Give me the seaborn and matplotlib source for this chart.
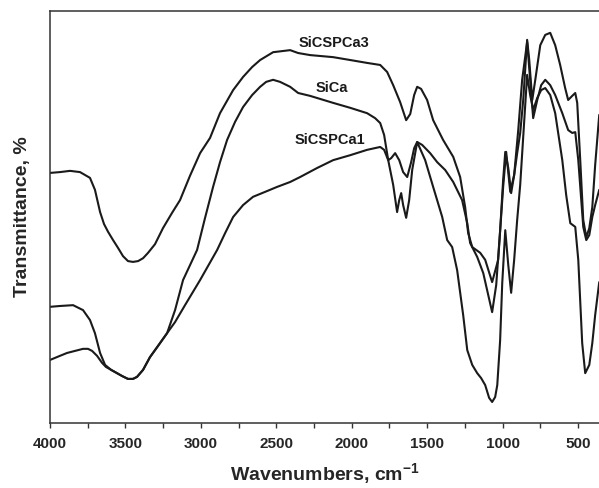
import numpy as np
import pandas as pd
import matplotlib
matplotlib.use("Agg")
import matplotlib.pyplot as plt
from matplotlib.ticker import MultipleLocator
import seaborn as sns

# ---- data (wavenumber cm^-1, transmittance in arbitrary %) ----
w_sicspca3 = [4000, 3934, 3867, 3801, 3768, 3735, 3702, 3668, 3642, 3615, 3582, 3549, 3516, 3483,
              3450, 3416, 3383, 3350, 3304, 3251, 3191, 3138, 3072, 3005, 2939, 2873, 2786, 2720,
              2660, 2607, 2521, 2408, 2355, 2276, 2123, 2010, 1898, 1811, 1765, 1725, 1679, 1639,
              1612, 1586, 1566, 1540, 1500, 1460, 1394, 1327, 1281, 1248, 1228, 1201, 1148, 1115,
              1069, 1029, 996, 976, 949, 923, 903, 883, 863, 837, 823, 803, 783, 750, 717, 684,
              651, 618, 585, 565, 538, 518, 505, 485, 465, 445, 425, 405, 386, 359]
t_sicspca3 = [60.7, 60.9, 61.2, 60.9, 60.2, 59.5, 56.6, 51.2, 48.3, 46.4, 44.4, 42.5, 40.5, 39.3,
              39.1, 39.3, 40.0, 41.3, 43.4, 47.3, 51.0, 54.1, 60.0, 65.5, 69.2, 75.2, 80.8, 84.0,
              86.4, 88.1, 90.0, 90.5, 89.8, 89.3, 88.8, 88.1, 87.4, 86.9, 85.2, 82.0, 77.9, 73.5,
              75.0, 79.6, 81.6, 81.1, 78.4, 73.5, 68.7, 64.6, 59.7, 52.4, 46.1, 42.7, 41.3, 39.6,
              34.2, 39.6, 57.3, 65.8, 56.1, 60.2, 65.5, 70.4, 78.4, 93.0, 88.1, 78.4, 83.3, 91.7,
              94.2, 94.7, 91.7, 86.9, 81.3, 78.4, 79.4, 80.1, 77.7, 63.8, 49.3, 45.1, 47.3, 52.4,
              62.6, 74.8]

w_sica = [4000, 3934, 3847, 3781, 3735, 3702, 3668, 3635, 3595, 3556, 3522, 3483, 3450, 3423,
          3383, 3337, 3284, 3224, 3171, 3118, 3072, 3025, 2972, 2919, 2873, 2826, 2773, 2720,
          2660, 2607, 2567, 2521, 2475, 2408, 2355, 2276, 2123, 2010, 1898, 1845, 1811, 1785,
          1758, 1738, 1712, 1685, 1659, 1632, 1606, 1586, 1566, 1533, 1480, 1433, 1380, 1327,
          1268, 1234, 1215, 1168, 1128, 1069, 1042, 1016, 996, 982, 962, 943, 923, 896, 870,
          837, 817, 797, 770, 744, 717, 684, 651, 604, 565, 538, 518, 498, 465, 445, 425, 405,
          386, 359]
t_sica = [28.2, 28.4, 28.6, 27.4, 25.0, 21.8, 17.0, 14.1, 12.9, 12.1, 11.4, 10.7, 10.7, 11.2,
          12.9, 16.0, 18.7, 21.8, 27.4, 34.7, 38.3, 42.0, 49.8, 57.3, 63.3, 68.7, 73.1, 76.7,
          79.6, 81.6, 82.8, 83.3, 82.8, 81.6, 80.1, 79.4, 77.7, 76.5, 75.2, 74.0, 72.8, 69.9,
          63.8, 64.3, 65.5, 63.8, 60.9, 59.7, 63.3, 66.7, 68.2, 67.5, 65.5, 63.3, 61.4, 58.5,
          54.1, 48.5, 43.7, 40.3, 36.4, 26.9, 33.5, 46.8, 59.0, 65.8, 61.9, 55.8, 60.2, 71.1,
          83.3, 92.5, 83.3, 74.0, 78.4, 82.0, 83.3, 82.0, 79.6, 75.2, 71.1, 70.4, 70.6, 63.8,
          47.6, 44.4, 45.6, 50.0, 52.9, 56.6]

w_sicspca1 = [4000, 3934, 3887, 3834, 3781, 3748, 3721, 3688, 3655, 3629, 3595, 3556, 3522, 3483,
              3450, 3423, 3383, 3337, 3284, 3224, 3171, 3105, 3005, 2892, 2839, 2786, 2720, 2654,
              2574, 2495, 2408, 2342, 2229, 2123, 2010, 1898, 1811, 1785, 1758, 1725, 1699, 1685,
              1672, 1659, 1639, 1619, 1599, 1566, 1513, 1460, 1400, 1367, 1334, 1301, 1261, 1234,
              1201, 1168, 1142, 1115, 1089, 1069, 1049, 1035, 1016, 1002, 982, 962, 943, 923, 903,
              883, 856, 837, 817, 797, 770, 744, 717, 684, 651, 604, 578, 551, 518, 498, 472, 452,
              425, 405, 386, 359]
t_sicspca1 = [15.3, 16.3, 17.0, 17.5, 18.0, 18.0, 17.5, 16.3, 14.6, 13.6, 12.9, 12.1, 11.4, 10.7,
              10.7, 11.2, 12.9, 16.0, 18.7, 21.8, 24.5, 28.6, 34.7, 42.0, 46.1, 50.0, 52.9, 54.9,
              56.1, 57.3, 58.5, 59.7, 61.9, 63.8, 65.0, 66.3, 67.0, 66.3, 63.8, 57.8, 51.2, 54.1,
              55.8, 52.9, 49.8, 54.1, 61.4, 68.2, 63.8, 57.3, 50.0, 44.4, 42.7, 37.1, 26.2, 17.7,
              14.1, 12.1, 10.9, 9.2, 6.1, 5.1, 6.3, 9.2, 20.1, 34.0, 46.8, 38.3, 31.6, 39.6, 49.3,
              57.8, 73.5, 84.5, 79.6, 76.0, 78.9, 80.8, 81.3, 79.6, 75.2, 63.8, 55.3, 48.5, 47.6,
              39.6, 19.4, 12.1, 14.1, 19.4, 26.2, 34.2]

series_names = ["SiCSPCa3", "SiCa", "SiCSPCa1"]
label_pos_w = [2116, 2130, 2143]
label_pos_t = [92.2, 81.3, 68.7]

x_ticks = [4000, 3500, 3000, 2500, 2000, 1500, 1000, 500]

# ---- build frame ----
frames = []
for name, w, t in zip(series_names,
                      [w_sicspca3, w_sica, w_sicspca1],
                      [t_sicspca3, t_sica, t_sicspca1]):
    frames.append(pd.DataFrame({"wavenumber": w, "T": t, "sample": name}))
df = pd.concat(frames, ignore_index=True)

sns.set_theme(style="ticks")
plt.rcParams["font.family"] = ["Liberation Sans", "DejaVu Sans"]
plt.rcParams["font.weight"] = "bold"
plt.rcParams["mathtext.fontset"] = "custom"
plt.rcParams["mathtext.rm"] = "Liberation Sans:bold"
plt.rcParams["mathtext.bf"] = "Liberation Sans:bold"
plt.rcParams["mathtext.default"] = "bf"

fig = plt.figure(figsize=(5.99, 4.88), dpi=100)
ax = fig.add_axes([50 / 599, 65 / 488, 550.6 / 599, 412 / 488])

sns.lineplot(data=df, x="wavenumber", y="T", hue="sample", units="sample",
             estimator=None, sort=False, palette=["#1a1a1a"] * 3,
             linewidth=1.5, legend=False, ax=ax)

ax.set_xlim(4000, 350)
ax.set_ylim(0, 100)
ax.set_yticks([])
ax.set_xticks(x_ticks)
ax.set_xticklabels([str(v) for v in x_ticks], fontsize=11, fontweight="bold")
ax.xaxis.set_minor_locator(MultipleLocator(250))
ax.tick_params(axis="x", which="both", direction="out", length=3.6, width=1.0,
               color="#333333", pad=6.5)
for s in ax.spines.values():
    s.set_color("#333333")
    s.set_linewidth(1.1)

ax.set_xlabel("Wavenumbers, cm$^{-1}$", fontsize=14, fontweight="bold", labelpad=7.5)
ax.set_ylabel("Transmittance, %", fontsize=14, fontweight="bold", labelpad=14)

for name, lw, lt in zip(series_names, label_pos_w, label_pos_t):
    ax.text(lw, lt, name, ha="center", va="center", fontsize=10.5, fontweight="bold",
            color="#1a1a1a")

fig.savefig("out.png", dpi=100)
